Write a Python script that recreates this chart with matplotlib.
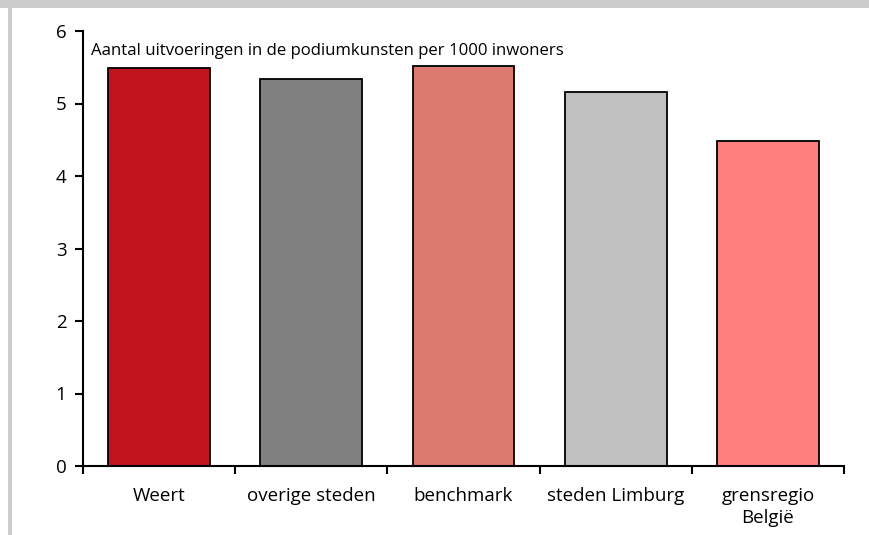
import matplotlib.pyplot as plt
from matplotlib.patches import Rectangle

# gegevens
categories = ['Weert', 'overige steden', 'benchmark', 'steden Limburg', 'grensregio\nBelgië']
values = [5.49, 5.34, 5.52, 5.16, 4.48]
colors = ['#C1141E', '#808080', '#DC7A70', '#C0C0C0', '#FF7F7F']
yticks = [0, 1, 2, 3, 4, 5, 6]
title = 'Aantal uitvoeringen in de podiumkunsten per 1000 inwoners'

plt.rcParams['font.family'] = ['Open Sans', 'DejaVu Sans']

fig = plt.figure(figsize=(8.7, 5.35), dpi=100)
fig.patch.set_facecolor('white')

# grijze rand bovenaan en links
fig.patches.append(Rectangle((0, 1 - 8 / 535), 1, 8 / 535, transform=fig.transFigure,
                             facecolor='#CCCCCC', edgecolor='none', zorder=0))
fig.patches.append(Rectangle((8 / 870, 0), 4 / 870, 1 - 8 / 535, transform=fig.transFigure,
                             facecolor='#CCCCCC', edgecolor='none', zorder=0))

ax = fig.add_axes([83 / 870, 69 / 535, (844 - 83) / 870, (466 - 31) / 535])
x = range(len(categories))
ax.bar(x, values, width=0.67, color=colors, edgecolor='black', linewidth=1.3, zorder=2)

ax.set_xlim(-0.5, len(categories) - 0.5)
ax.set_ylim(0, 6)
ax.set_yticks(yticks)
ax.set_xticks(list(x))
ax.set_xticklabels(categories, fontsize=13.5, linespacing=1.3)
ax.set_xticks([i - 0.5 for i in range(len(categories) + 1)], minor=True)
ax.tick_params(axis='x', which='major', length=0, pad=15)
ax.tick_params(axis='x', which='minor', length=6, width=1.5, direction='out')
ax.tick_params(axis='y', length=6, width=1.5, direction='out', labelsize=13.5, pad=6)

for side in ['top', 'right']:
    ax.spines[side].set_visible(False)
for side in ['left', 'bottom']:
    ax.spines[side].set_linewidth(1.5)

ax.text(0.011, 0.953, title, transform=ax.transAxes, fontsize=12.1,
        ha='left', va='center')

fig.savefig('out.png', dpi=100)
